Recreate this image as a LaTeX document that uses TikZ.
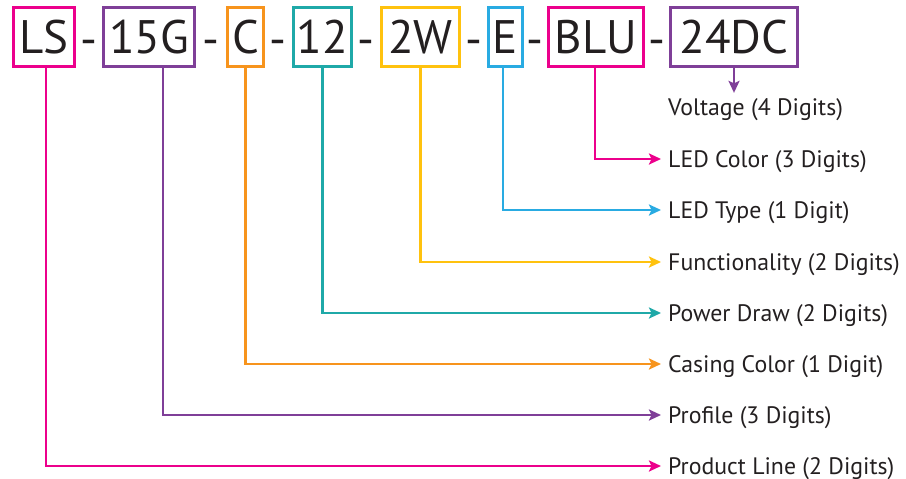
\documentclass[tikz,border=0pt]{standalone}
\usepackage{fontspec}
\setmainfont{PT Sans}
\usetikzlibrary{arrows.meta}
\definecolor{cpink}{HTML}{EC008C}
\definecolor{cpurple}{HTML}{7F3F98}
\definecolor{corange}{HTML}{F7941D}
\definecolor{cteal}{HTML}{1FA9A8}
\definecolor{cyellow}{HTML}{FFC20E}
\definecolor{cblue}{HTML}{29ABE2}
\definecolor{ctext}{HTML}{231F20}
\begin{document}
\begin{tikzpicture}[x=1pt,y=-1pt,
  codebox/.style={draw=#1, line width=3pt, minimum height=59pt, inner sep=0pt,
    text=ctext, font=\fontsize{47}{50}\selectfont},
  sep/.style={anchor=base, inner sep=0pt, text=ctext, font=\fontsize{47}{50}\selectfont},
  lbl/.style={anchor=base west, inner sep=0pt, text=ctext, font=\fontsize{23.8}{26}\selectfont},
  conn/.style={draw=#1, line width=2.6pt, -{Stealth[length=12pt,width=11pt,inset=2.5pt]}}
]
\useasboundingbox (0,0) rectangle (906,479);
% code boxes
\node[codebox=cpink,   minimum width=61pt]  (ls)  at (44,37)    {LS};
\node[codebox=cpurple, minimum width=91pt]  (g15) at (149,37)   {15G};
\node[codebox=corange, minimum width=36pt]  (c)   at (245.5,37) {C};
\node[codebox=cteal,   minimum width=58pt]  (n12) at (322.5,37) {12};
\node[codebox=cyellow, minimum width=78pt]  (w2)  at (420.5,37) {2W};
\node[codebox=cblue,   minimum width=34pt]  (e)   at (505.5,37) {E};
\node[codebox=cpink,   minimum width=95pt]  (blu) at (596,37)   {BLU};
\node[codebox=cpurple, minimum width=127pt] (dc)  at (734,37)   {24DC};
% separators
\node[sep] (s1) at (89,55)  {-};
\node[sep] (s2) at (211,55) {-};
\node[sep] (s3) at (278,55) {-};
\node[sep] (s4) at (366,55) {-};
\node[sep] (s5) at (474,55) {-};
\node[sep] (s6) at (535,55) {-};
\node[sep] (s7) at (657,55) {-};
% labels
\node[lbl] (volt) at (668,115) {Voltage (4 Digits)};
\node[lbl] (ledc) at (668,167) {LED Color (3 Digits)};
\node[lbl] (ledt) at (668,218) {LED Type (1 Digit)};
\node[lbl] (func) at (668,270) {Functionality (2 Digits)};
\node[lbl] (pow)  at (668,321) {Power Draw (2 Digits)};
\node[lbl] (cas)  at (668,372) {Casing Color (1 Digit)};
\node[lbl] (prof) at (668,423) {Profile (3 Digits)};
\node[lbl] (prod) at (668,474) {Product Line (2 Digits)};
% connectors
\draw[conn=cpurple] (dc.south) -- ([yshift=5pt]dc.south |- volt.north);
\draw[conn=cpink]   ([xshift=-1pt]blu.south) |- ([shift={(-7pt,8pt)}]ledc.base west);
\draw[conn=cblue]   ([xshift=-2.5pt]e.south) |- ([shift={(-7pt,8pt)}]ledt.base west);
\draw[conn=cyellow] (w2.south) |- ([shift={(-7pt,8pt)}]func.base west);
\draw[conn=cteal]   (n12.south) |- ([shift={(-7pt,8pt)}]pow.base west);
\draw[conn=corange] (c.south) |- ([shift={(-7pt,8pt)}]cas.base west);
\draw[conn=cpurple] ([xshift=14pt]g15.south) |- ([shift={(-7pt,8pt)}]prof.base west);
\draw[conn=cpink]   ([xshift=2pt]ls.south) |- ([shift={(-7pt,8pt)}]prod.base west);
\end{tikzpicture}
\end{document}
